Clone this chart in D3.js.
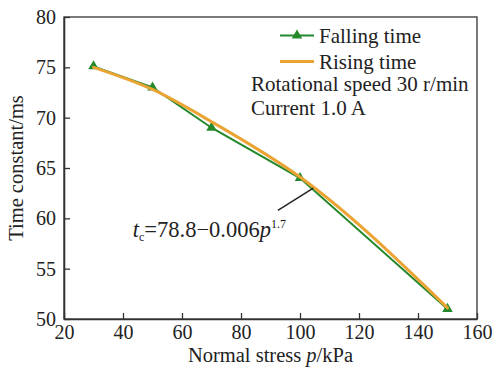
<!DOCTYPE html>
<html>
<head>
<meta charset="utf-8">
<script src="https://cdn.jsdelivr.net/npm/d3@7"></script>
<style>
  html, body { margin: 0; padding: 0; background: #fff; }
  svg { display: block; }
  text { font-family: "Liberation Serif", "Times New Roman", serif; fill: #222; }
</style>
</head>
<body>
<svg id="chart" width="495" height="367"></svg>
<script>
// Normal stress (kPa) at which the falling time was measured
const fallingStress = [30, 50, 70, 100, 150];
// Falling time constant (ms)
const fallingTime = [75.1, 73.0, 69.0, 64.0, 51.0];
// Rising time constant (ms), fitted curve
const risingStress = [30, 50, 70, 100, 150];
const risingTime = [75.0, 72.8, 69.6, 64.1, 51.1];
// Axis ticks
const xTicks = [20, 40, 60, 80, 100, 120, 140, 160];
const yTicks = [50, 55, 60, 65, 70, 75, 80];

const W = 495, H = 367;
const margin = { top: 17, right: 18, bottom: 48, left: 64 };
const iw = W - margin.left - margin.right;
const ih = H - margin.top - margin.bottom;

const GREEN = "#23892a";
const ORANGE = "#eba434";
const AXIS = "#333";

const svg = d3.select("#chart");
const g = svg.append("g").attr("transform", `translate(${margin.left},${margin.top})`);

const x = d3.scaleLinear().domain([20, 160]).range([0, iw]);
const y = d3.scaleLinear().domain([50, 80]).range([ih, 0]);

// Frame (top and right)
g.append("rect")
  .attr("x", 0).attr("y", 0).attr("width", iw).attr("height", ih)
  .attr("fill", "none").attr("stroke", AXIS).attr("stroke-width", 1.3);

// Axes with inward ticks
const xAxis = g.append("g").attr("transform", `translate(0,${ih})`)
  .call(d3.axisBottom(x).tickValues(xTicks).tickSizeInner(-6).tickSizeOuter(0).tickPadding(6));
const yAxis = g.append("g")
  .call(d3.axisLeft(y).tickValues(yTicks).tickSizeInner(-6).tickSizeOuter(0).tickPadding(8));

[xAxis, yAxis].forEach(a => {
  a.select(".domain").attr("stroke", AXIS).attr("stroke-width", 1.6);
  a.selectAll(".tick line").attr("stroke", AXIS).attr("stroke-width", 1.3);
  a.selectAll(".tick text")
    .attr("font-family", "Liberation Serif, Times New Roman, serif")
    .attr("font-size", 20).attr("fill", "#222");
});
xAxis.selectAll(".tick text").attr("dy", "0.71em");

// Falling time: straight segments with triangle markers
const falling = fallingStress.map((p, i) => ({ p, t: fallingTime[i] }));
g.append("path")
  .datum(falling)
  .attr("fill", "none").attr("stroke", GREEN).attr("stroke-width", 2)
  .attr("d", d3.line().x(d => x(d.p)).y(d => y(d.t)));

const tri = d3.symbol().type(d3.symbolTriangle).size(48);
g.selectAll(".mk").data(falling).enter().append("path")
  .attr("class", "mk")
  .attr("transform", d => `translate(${x(d.p)},${y(d.t)})`)
  .attr("d", tri).attr("fill", GREEN);

// Rising time: smooth fitted curve
const rising = risingStress.map((p, i) => ({ p, t: risingTime[i] }));
g.append("path")
  .datum(rising)
  .attr("fill", "none").attr("stroke", ORANGE).attr("stroke-width", 3)
  .attr("stroke-linecap", "round")
  .attr("d", d3.line().curve(d3.curveMonotoneX).x(d => x(d.p)).y(d => y(d.t)));

// Leader line for the fitted formula
g.append("line")
  .attr("x1", x(104.5)).attr("y1", y(63.0))
  .attr("x2", x(92.5)).attr("y2", y(60.8))
  .attr("stroke", "#222").attr("stroke-width", 1.5);

const formula = g.append("text")
  .attr("x", x(43.3)).attr("y", y(58.1))
  .attr("font-size", 22.5);
formula.append("tspan").attr("font-style", "italic").text("t");
formula.append("tspan").attr("font-size", 12).attr("dy", 4).text("c");
formula.append("tspan").attr("dy", -4).text("=78.8\u22120.006");
formula.append("tspan").attr("font-style", "italic").text("p");
formula.append("tspan").attr("font-size", 12).attr("dy", -9).text("1.7");

// Legend
const leg = g.append("g");
const legItems = [
  { label: "Falling time", color: GREEN, width: 2, marker: true },
  { label: "Rising time", color: ORANGE, width: 3, marker: false }
];
legItems.forEach((d, i) => {
  const yy = 18.5 + i * 26;
  leg.append("line")
    .attr("x1", 216).attr("x2", 250).attr("y1", yy).attr("y2", yy)
    .attr("stroke", d.color).attr("stroke-width", d.width);
  if (d.marker) {
    leg.append("path").attr("transform", `translate(233,${yy})`)
      .attr("d", tri).attr("fill", d.color);
  }
  leg.append("text").attr("x", 255).attr("y", yy + 7).attr("font-size", 21).text(d.label);
});
g.append("text").attr("x", 187).attr("y", 74).attr("font-size", 21).text("Rotational speed 30 r/min");
g.append("text").attr("x", 187).attr("y", 98).attr("font-size", 21).text("Current 1.0 A");

// Axis titles
const xl = svg.append("text")
  .attr("x", margin.left + iw / 2).attr("y", 362)
  .attr("text-anchor", "middle").attr("font-size", 20.5);
xl.append("tspan").text("Normal stress ");
xl.append("tspan").attr("font-style", "italic").text("p");
xl.append("tspan").text("/kPa");

svg.append("text")
  .attr("transform", `translate(23,${margin.top + ih / 2}) rotate(-90)`)
  .attr("text-anchor", "middle").attr("font-size", 20.5)
  .text("Time constant/ms");
</script>
</body>
</html>
